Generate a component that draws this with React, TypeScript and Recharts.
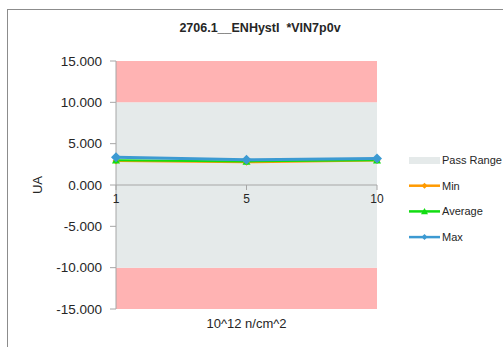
import React from "react";
import {
  ComposedChart,
  Line,
  XAxis,
  YAxis,
  ReferenceArea,
  ReferenceLine,
  Legend,
} from "recharts";

const categories = ["1", "5", "10"];
const minValues = [2.9, 2.75, 2.95];
const averageValues = [3.0, 2.85, 3.0];
const maxValues = [3.35, 3.05, 3.2];
const yTicks = [-15, -10, -5, 0, 5, 10, 15];
const yDomain = [-15, 15];
const passRange = [-10, 10];

const W = 495;
const H = 337;
const TOP = 51;
const XAXIS_H = 38;
const PLOT_H = H - TOP - XAXIS_H;
const LEGEND_W = 94;
const FONT = "'Liberation Sans', Arial, sans-serif";

const data = categories.map((c, i) => ({
  cat: c,
  min: minValues[i],
  average: averageValues[i],
  max: maxValues[i],
}));

const colors = {
  pass: "#E5EAEA",
  fail: "#FFB3B3",
  min: "#FF9A00",
  average: "#12DD12",
  max: "#3C9AD2",
  axis: "#A6A6A6",
};

// x ticks sit on the zero line, not at the bottom of the plot
function ZeroTick({ x, y, payload }: any) {
  const zy = y - PLOT_H / 2;
  return (
    <g>
      <line x1={x} x2={x} y1={zy} y2={zy + 5} stroke={colors.axis} />
      <text x={x} y={zy + 18} textAnchor="middle" fontSize={12} fill="#262626" fontFamily={FONT}>
        {payload.value}
      </text>
    </g>
  );
}

function Diamond({ cx, cy, fill, r = 4 }: any) {
  if (cx == null || cy == null) return null;
  return <path d={`M${cx},${cy - r}L${cx + r},${cy}L${cx},${cy + r}L${cx - r},${cy}Z`} fill={fill} />;
}

function Triangle({ cx, cy, fill, r = 4 }: any) {
  if (cx == null || cy == null) return null;
  return <path d={`M${cx},${cy - r}L${cx + r},${cy + r * 0.8}L${cx - r},${cy + r * 0.8}Z`} fill={fill} />;
}

function LegendBox() {
  const items = [
    { name: "Pass Range", kind: "rect", color: colors.pass },
    { name: "Min", kind: "diamond", color: colors.min },
    { name: "Average", kind: "triangle", color: colors.average },
    { name: "Max", kind: "diamond", color: colors.max },
  ];
  return (
    <svg width={LEGEND_W} height={110}>
      {items.map((it, i) => {
        const cy = 10 + i * 25.7;
        return (
          <g key={it.name}>
            {it.kind === "rect" ? (
              <rect x={0} y={cy - 3} width={31} height={7} fill={it.color} />
            ) : (
              <g>
                <line x1={0} x2={31} y1={cy} y2={cy} stroke={it.color} strokeWidth={2.5} />
                {it.kind === "diamond" ? (
                  <Diamond cx={15.5} cy={cy} fill={it.color} r={3} />
                ) : (
                  <Triangle cx={15.5} cy={cy} fill={it.color} r={3.5} />
                )}
              </g>
            )}
            <text x={33} y={cy + 4} fontSize={11} fill="#262626" fontFamily={FONT}>
              {it.name}
            </text>
          </g>
        );
      })}
    </svg>
  );
}

export default function App() {
  return (
    <div
      style={{
        position: "absolute",
        left: 7,
        top: 9,
        width: 600,
        height: 400,
        borderTop: "1px solid #8C8C8C",
        borderLeft: "1px solid #8C8C8C",
        background: "#fff",
      }}
    >
      <div
        style={{
          position: "absolute",
          left: 0,
          width: 504,
          top: 11,
          textAlign: "center",
          fontFamily: FONT,
          fontWeight: "bold",
          fontSize: 12.5,
          color: "#262626",
        }}
      >
        2706.1__ENHystI&nbsp;&nbsp;*VIN7p0v
      </div>
      <ComposedChart
        width={W}
        height={H}
        data={data}
        margin={{ top: TOP, right: 126 - LEGEND_W, bottom: 0, left: 0 }}
      >
        <ReferenceArea y1={yDomain[0]} y2={passRange[0]} fill={colors.fail} fillOpacity={1} stroke="none" />
        <ReferenceArea y1={passRange[0]} y2={passRange[1]} fill={colors.pass} fillOpacity={1} stroke="none" />
        <ReferenceArea y1={passRange[1]} y2={yDomain[1]} fill={colors.fail} fillOpacity={1} stroke="none" />
        <ReferenceLine y={0} stroke={colors.axis} />
        <XAxis
          dataKey="cat"
          scale="point"
          padding={{ left: 0, right: 0 }}
          height={XAXIS_H}
          axisLine={false}
          tickLine={false}
          tickSize={0}
          tickMargin={0}
          tick={<ZeroTick />}
          interval={0}
          label={{
            value: "10^12 n/cm^2",
            position: "insideBottom",
            offset: 19,
            fontSize: 13,
            fill: "#262626",
            fontFamily: FONT,
          }}
        />
        <YAxis
          width={108}
          domain={yDomain}
          ticks={yTicks}
          type="number"
          allowDataOverflow
          tickFormatter={(v: number) => v.toFixed(3)}
          axisLine={{ stroke: colors.axis }}
          tickLine={{ stroke: colors.axis }}
          tickSize={6}
          tickMargin={8}
          tick={{ fontSize: 13.5, fill: "#262626", fontFamily: FONT }}
          label={{
            content: (p: any) => {
              const vb = p.viewBox;
              const cx = 29;
              const cy = vb.y + vb.height / 2;
              return (
                <text
                  x={cx}
                  y={cy}
                  transform={`rotate(-90 ${cx} ${cy})`}
                  textAnchor="middle"
                  dominantBaseline="central"
                  fontSize={13}
                  fill="#262626"
                  fontFamily={FONT}
                >
                  UA
                </text>
              );
            },
          }}
        />
        <Legend
          layout="vertical"
          align="right"
          verticalAlign="top"
          content={() => <LegendBox />}
          wrapperStyle={{ left: 401, top: 140, width: LEGEND_W }}
        />
        <Line
          dataKey="min"
          name="Min"
          stroke={colors.min}
          strokeWidth={2}
          dot={<Diamond fill={colors.min} r={3.5} />}
          isAnimationActive={false}
        />
        <Line
          dataKey="average"
          name="Average"
          stroke={colors.average}
          strokeWidth={2}
          dot={<Triangle fill={colors.average} r={4} />}
          isAnimationActive={false}
        />
        <Line
          dataKey="max"
          name="Max"
          stroke={colors.max}
          strokeWidth={3}
          dot={<Diamond fill={colors.max} r={5} />}
          isAnimationActive={false}
        />
      </ComposedChart>
    </div>
  );
}
